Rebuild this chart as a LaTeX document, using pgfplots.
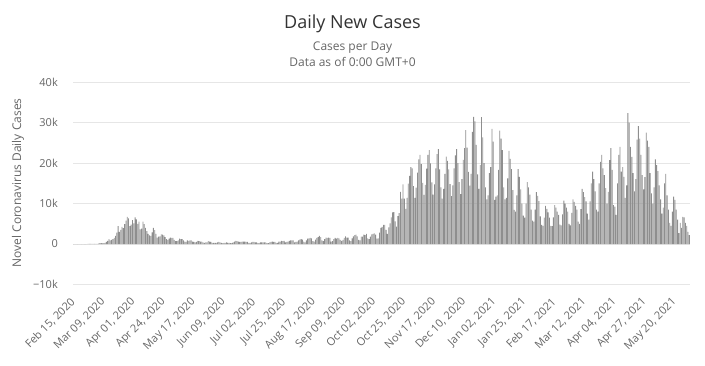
\documentclass[border=0pt]{standalone}
\usepackage{pgfplots}
\pgfplotsset{compat=1.18}
\usepackage{pgfplotstable}
\usepackage{fontspec}
\setmainfont{Open Sans}
\definecolor{barc}{HTML}{8E8E8E}
\definecolor{txt}{HTML}{666666}
\definecolor{ttl}{HTML}{333333}
\definecolor{grd}{HTML}{E6E6E6}
\pgfplotstableread[row sep=\\]{
v\\
0\\0\\0\\0\\0\\0\\0\\
0\\0\\0\\0\\0.01\\0.03\\0.01\\
0.06\\0.04\\0.03\\0.05\\0.04\\0.1\\0.2\\
0.2\\0.15\\0.2\\0.3\\0.5\\0.8\\1.2\\
0.9\\1.0\\1.2\\1.5\\2.0\\2.8\\4.4\\
3.0\\3.5\\4.2\\3.9\\4.9\\5.8\\6.7\\
6.3\\4.4\\4.8\\5.9\\5.1\\6.6\\6.1\\
5.0\\5.5\\3.6\\3.8\\5.5\\4.9\\4.0\\
3.2\\2.5\\2.1\\2.0\\2.9\\4.0\\3.4\\
2.5\\1.6\\1.8\\1.9\\2.4\\2.3\\2.1\\
1.7\\1.2\\1.0\\1.3\\1.6\\1.5\\1.5\\
1.0\\0.7\\0.7\\0.9\\1.3\\1.2\\1.2\\
0.9\\0.6\\0.5\\0.9\\0.8\\0.9\\0.9\\
0.6\\0.5\\0.4\\0.5\\0.8\\0.7\\0.6\\
0.6\\0.4\\0.3\\0.4\\0.4\\0.7\\0.6\\
0.5\\0.3\\0.3\\0.3\\0.3\\0.4\\0.5\\
0.4\\0.3\\0.2\\0.3\\0.3\\0.4\\0.3\\
0.3\\0.2\\0.2\\0.4\\0.6\\0.8\\0.7\\
0.6\\0.5\\0.5\\0.6\\0.6\\0.6\\0.5\\
0.5\\0.3\\0.3\\0.4\\0.5\\0.5\\0.4\\
0.4\\0.2\\0.3\\0.4\\0.4\\0.4\\0.4\\
0.4\\0.2\\0.2\\0.4\\0.5\\0.6\\0.5\\
0.5\\0.3\\0.3\\0.6\\0.6\\0.8\\0.7\\
0.8\\0.4\\0.5\\0.6\\0.8\\0.9\\0.9\\
0.9\\0.4\\0.5\\0.6\\0.9\\1.1\\1.2\\
1.1\\0.6\\0.4\\0.9\\1.3\\1.4\\1.5\\
1.4\\0.7\\0.6\\1.1\\1.5\\1.7\\2.0\\
1.7\\0.9\\0.7\\1.2\\1.6\\1.5\\1.6\\
1.5\\0.6\\0.7\\1.2\\1.5\\1.3\\1.5\\
1.4\\1.0\\0.8\\1.0\\1.5\\1.9\\1.6\\
1.6\\0.9\\0.7\\1.4\\1.9\\2.2\\2.3\\
1.9\\1.0\\0.9\\1.8\\1.8\\2.3\\2.2\\
2.5\\1.4\\1.2\\1.8\\2.4\\2.5\\2.6\\
2.3\\1.3\\1.4\\2.8\\4.0\\4.2\\4.7\\
4.7\\3.5\\2.5\\4.1\\5.1\\6.6\\7.8\\
7.9\\5.6\\4.3\\6.9\\7.6\\12.9\\11.2\\
14.7\\11.2\\8.7\\11.4\\14.9\\16.8\\19.0\\
18.7\\14.3\\11.4\\13.9\\17.6\\20.9\\22.0\\
19.7\\15.1\\12.1\\14.6\\18.6\\22.0\\23.2\\
19.9\\15.2\\12.2\\14.7\\18.7\\22.2\\23.4\\
18.4\\14.0\\11.2\\13.6\\17.3\\21.6\\20.5\\
18.4\\14.8\\11.8\\14.5\\18.7\\21.9\\23.4\\
20.0\\15.3\\12.3\\16.0\\20.8\\23.7\\28.1\\
23.8\\17.8\\14.4\\17.3\\27.7\\31.4\\30.3\\
24.5\\17.2\\13.6\\19.5\\31.3\\26.3\\20.0\\
14.0\\11.0\\12.0\\17.5\\19.0\\28.4\\25.3\\
10.9\\11.7\\12.0\\18.3\\28.0\\26.0\\23.2\\
14.0\\11.0\\11.4\\16.2\\23.0\\21.0\\18.5\\
13.3\\8.4\\8.0\\12.0\\18.5\\16.6\\13.5\\
10.0\\7.0\\6.5\\10.0\\15.3\\14.0\\12.2\\
8.5\\5.8\\5.5\\8.5\\12.8\\11.9\\10.6\\
6.8\\4.7\\4.5\\6.5\\9.4\\8.7\\7.8\\
6.5\\4.5\\4.4\\6.6\\9.6\\9.0\\8.0\\
7.2\\4.8\\4.6\\7.3\\10.7\\10.0\\9.0\\
8.0\\5.0\\4.6\\7.7\\11.0\\10.4\\9.4\\
8.5\\5.5\\5.0\\8.6\\13.6\\12.8\\11.6\\
10.5\\7.5\\6.0\\10.5\\15.0\\17.9\\16.0\\
13.0\\8.5\\8.0\\15.0\\20.3\\22.0\\18.7\\
17.0\\13.8\\10.0\\12.9\\20.7\\23.7\\18.3\\
9.6\\9.2\\7.2\\15.0\\22.0\\24.0\\17.9\\
19.0\\16.6\\11.4\\14.5\\32.3\\30.0\\24.0\\
21.5\\17.5\\13.0\\16.0\\25.8\\29.1\\26.0\\
22.0\\17.0\\13.5\\16.5\\27.5\\25.5\\24.0\\
17.5\\12.5\\10.0\\14.0\\20.9\\19.5\\18.0\\
14.5\\11.0\\7.5\\9.0\\15.0\\17.3\\12.0\\
8.5\\5.2\\4.5\\8.0\\11.7\\10.9\\8.5\\
6.0\\2.7\\5.2\\4.0\\6.7\\6.6\\5.2\\
4.5\\3.0\\2.2\\
}\cases
\begin{document}
\begin{tikzpicture}[x=1pt,y=1pt]
\path[use as bounding box] (0,0) rectangle (705,365);
\node[font=\fontsize{18}{22}\selectfont, text=ttl, anchor=base] at (352.5,336) {Daily New Cases};
\node[font=\fontsize{12}{14}\selectfont, text=txt, anchor=base] at (352.5,314.5) {Cases per Day};
\node[font=\fontsize{12}{14}\selectfont, text=txt, anchor=base] at (352.5,298.5) {Data as of 0:00 GMT+0};
\node[font=\fontsize{12}{14}\selectfont, text=txt, rotate=90] at (18,182) {Novel Coronavirus Daily Cases};
\begin{axis}[
  at={(73pt,80.5pt)}, anchor=south west,
  scale only axis, width=617pt, height=202.5pt,
  xmin=-0.5, xmax=471.5, ymin=-10, ymax=40,
  ytick={-10,0,10,20,30,40},
  yticklabels={−10k,0,10k,20k,30k,40k},
  xtick={0,23,...,460},
  xticklabels={{Feb 15, 2020},{Mar 09, 2020},{Apr 01, 2020},{Apr 24, 2020},{May 17, 2020},{Jun 09, 2020},{Jul 02, 2020},{Jul 25, 2020},{Aug 17, 2020},{Sep 09, 2020},{Oct 02, 2020},{Oct 25, 2020},{Nov 17, 2020},{Dec 10, 2020},{Jan 02, 2021},{Jan 25, 2021},{Feb 17, 2021},{Mar 12, 2021},{Apr 04, 2021},{Apr 27, 2021},{May 20, 2021}},
  ymajorgrids, grid style={grd, line width=1pt},
  axis line style={draw=none},
  major tick length=0pt,
  yticklabel style={font=\fontsize{11}{13}\selectfont, text=txt, anchor=east, inner sep=0pt, xshift=-15pt},
  xticklabel style={font=\fontsize{11}{13}\selectfont, text=txt, inner sep=0pt, xshift=-4pt, yshift=-12pt, rotate=45, anchor=north east},
]
\addplot[ybar, bar width=0.65, bar shift=0pt, fill=barc, draw=none] table[x expr=\coordindex, y=v] {\cases};
\end{axis}
\end{tikzpicture}
\end{document}
